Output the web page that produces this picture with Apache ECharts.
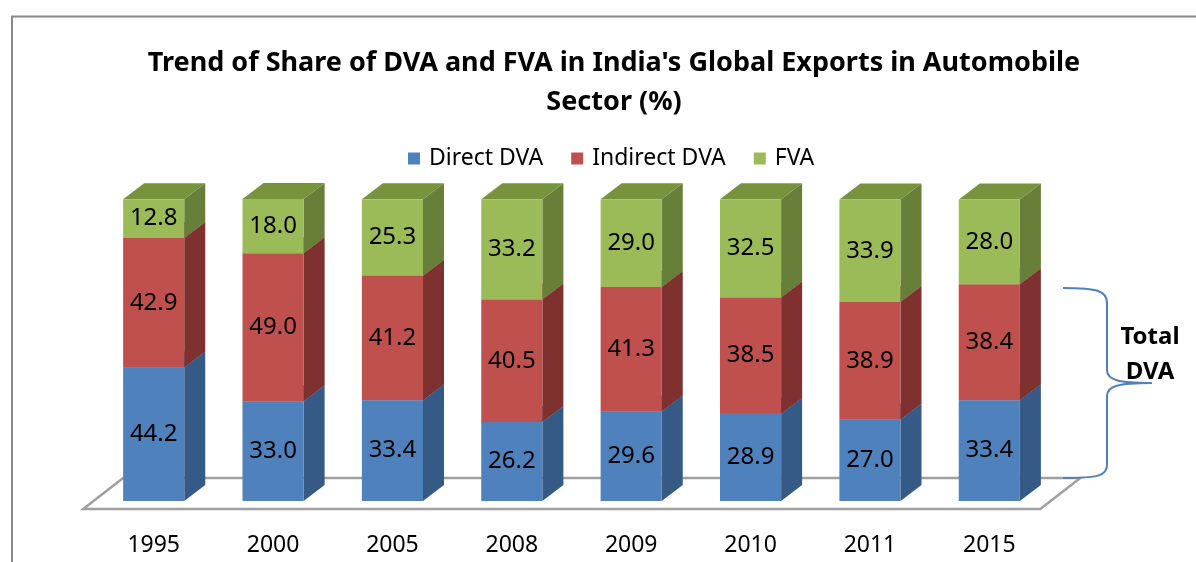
<!DOCTYPE html>
<html><head><meta charset="utf-8">
<script src="https://cdn.jsdelivr.net/npm/echarts@6/dist/echarts.min.js"></script>
<style>html,body{margin:0;padding:0;background:#fff}#c{width:1196px;height:562px}</style>
</head><body><div id="c"></div>
<script>
const categories = ['1995','2000','2005','2008','2009','2010','2011','2015'];
const directDVA = [44.2,33.0,33.4,26.2,29.6,28.9,27.0,33.4];
const indirectDVA = [42.9,49.0,41.2,40.5,41.3,38.5,38.9,38.4];
const fva = [12.8,18.0,25.3,33.2,29.0,32.5,33.9,28.0];
const seriesNames = ['Direct DVA','Indirect DVA','FVA'];
const seriesValues = [directDVA, indirectDVA, fva];

const frontColors = ['#4F81BD','#C0504D','#9BBB59'];
const sideColors = ['#365A86','#7E312F','#687F39'];
const topColors = ['#41699A','#9C3F3D','#78933E'];
const DX = 21, DY = 16;
const FONT = '"Noto Sans", "Open Sans", sans-serif';

function makeRender(s) {
  return function (params, api) {
    const i = api.value(0);
    const v = api.value(1);
    let base = 0;
    for (let k = 0; k < s; k++) base += seriesValues[k][i];
    const p0 = api.coord([i, base]);
    const p1 = api.coord([i, base + v]);
    const band = api.size([1, 0])[0];
    const w = band * 0.512;
    const x0 = p0[0] - w / 2, x1 = p0[0] + w / 2;
    const yb = p0[1], yt = p1[1];
    return {
      type: 'group',
      children: [
        { type: 'polygon', shape: { points: [[x1, yb], [x1 + DX, yb - DY], [x1 + DX, yt - DY], [x1, yt]] }, style: { fill: sideColors[s] } },
        { type: 'polygon', shape: { points: [[x0, yt], [x1, yt], [x1 + DX, yt - DY], [x0 + DX, yt - DY]] }, style: { fill: topColors[s] } },
        { type: 'rect', shape: { x: x0, y: yt, width: w, height: yb - yt }, style: { fill: frontColors[s] } },
        { type: 'text', x: (x0 + x1) / 2, y: (yt + yb) / 2, style: { text: v.toFixed(1), fill: '#000', font: '24px ' + FONT, align: 'center', verticalAlign: 'middle' } }
      ]
    };
  };
}

function renderFloor(params, api) {
  const pL = api.coord([0, 0]);
  const pR = api.coord([categories.length - 1, 0]);
  const yF = pL[1] + 8;
  const xFL = pL[0] - 70.5, xFR = pR[0] + 51;
  const ddx = 40, ddy = 31;
  return {
    type: 'polygon',
    shape: { points: [[xFL, yF], [xFR, yF], [xFR + ddx, yF - ddy], [xFL + ddx, yF - ddy]] },
    style: { fill: '#fff', stroke: '#A0A0A0', lineWidth: 2.5 }
  };
}

const series = [{
  type: 'custom', name: 'floor', renderItem: renderFloor, data: [[0, 0]], encode: { x: 0, y: 1 }, silent: true, z: 1
}];
seriesValues.forEach((vals, s) => {
  series.push({
    type: 'custom', name: seriesNames[s], renderItem: makeRender(s),
    itemStyle: { color: frontColors[s] },
    data: vals.map((v, i) => [i, v]), encode: { x: 0, y: 1 }, z: 2 + s
  });
});

const braceStyle = { stroke: '#4F81BD', lineWidth: 2, fill: null };
const chart = echarts.init(document.getElementById('c'));
chart.setOption({
  animation: false,
  backgroundColor: '#fff',
  title: {
    text: "Trend of Share of DVA and FVA in India's Global Exports in Automobile\nSector (%)",
    left: 614, top: 44, textAlign: 'center', padding: 0,
    textStyle: { fontFamily: FONT, fontWeight: 'bold', fontSize: 27, lineHeight: 39, color: '#000' }
  },
  legend: {
    data: seriesNames, left: 408, top: 147, padding: 0, itemGap: 28, itemWidth: 12, itemHeight: 12, icon: 'rect',
    textStyle: { fontFamily: FONT, fontSize: 23, color: '#000', padding: [0, 0, 0, 4] }
  },
  grid: { left: 94, width: 955, top: 199, height: 302 },
  xAxis: {
    type: 'category', data: categories,
    axisLine: { show: false }, axisTick: { show: false }, splitLine: { show: false },
    axisLabel: { margin: 33, fontFamily: FONT, fontSize: 23, color: '#000' }
  },
  yAxis: { type: 'value', min: 0, max: 100, show: false, splitLine: { show: false } },
  series: series,
  graphic: [
    { type: 'polyline', shape: { points: [[12, 562], [12, 16.5], [1196, 16.5]] }, style: { stroke: '#888', lineWidth: 2, fill: null }, z: 0 },
    { type: 'bezierCurve', shape: { x1: 1063, y1: 288, cpx1: 1098, cpy1: 288, cpx2: 1107, cpy2: 291, x2: 1107, y2: 303 }, style: braceStyle, z: 10 },
    { type: 'line', shape: { x1: 1107, y1: 303, x2: 1107, y2: 370 }, style: braceStyle, z: 10 },
    { type: 'bezierCurve', shape: { x1: 1107, y1: 370, cpx1: 1107, cpy1: 380, cpx2: 1118, cpy2: 383, x2: 1152, y2: 383 }, style: braceStyle, z: 10 },
    { type: 'bezierCurve', shape: { x1: 1152, y1: 383, cpx1: 1118, cpy1: 383, cpx2: 1107, cpy2: 386, x2: 1107, y2: 396 }, style: braceStyle, z: 10 },
    { type: 'line', shape: { x1: 1107, y1: 396, x2: 1107, y2: 465 }, style: braceStyle, z: 10 },
    { type: 'bezierCurve', shape: { x1: 1107, y1: 465, cpx1: 1107, cpy1: 476, cpx2: 1098, cpy2: 478, x2: 1063, y2: 478 }, style: braceStyle, z: 10 },
    { type: 'text', x: 1150, y: 337, style: { text: 'Total', font: 'bold 24px ' + FONT, fill: '#000', align: 'center', verticalAlign: 'middle' }, z: 10 },
    { type: 'text', x: 1150, y: 372, style: { text: 'DVA', font: 'bold 24px ' + FONT, fill: '#000', align: 'center', verticalAlign: 'middle' }, z: 10 }
  ]
});
</script>
</body></html>
